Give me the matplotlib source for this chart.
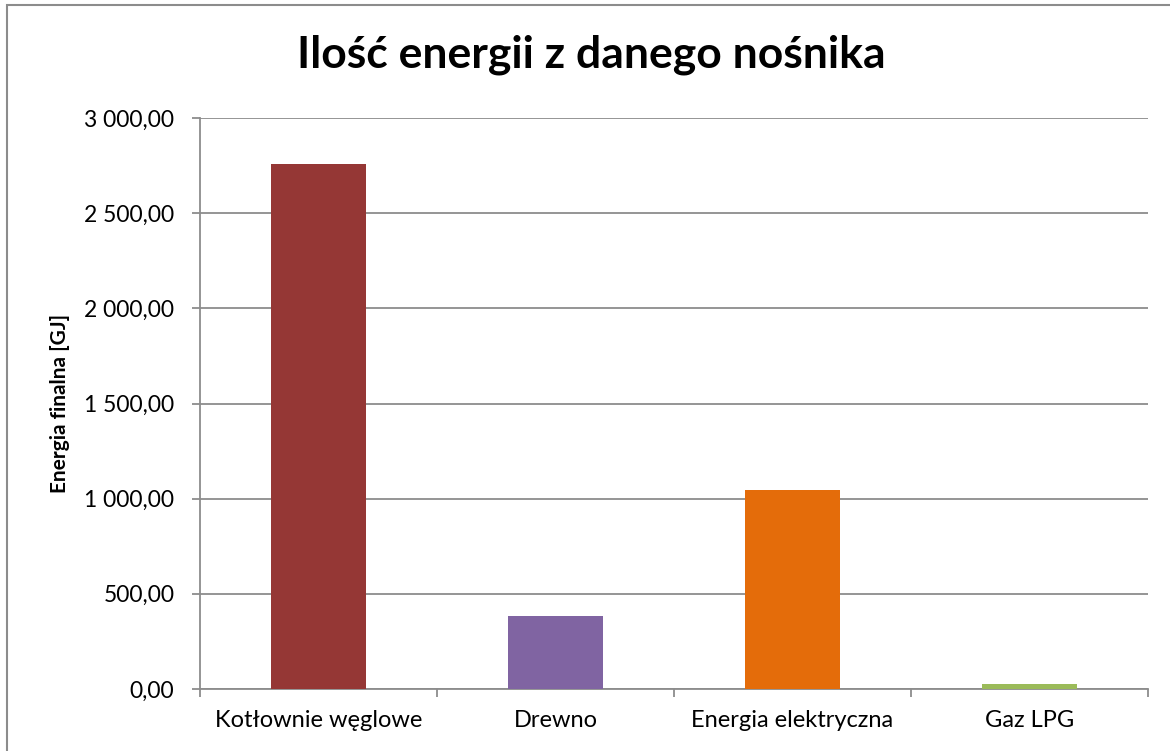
import matplotlib
matplotlib.use("Agg")
import matplotlib.pyplot as plt
from matplotlib.patches import Rectangle
from matplotlib.ticker import FuncFormatter, FixedLocator

categories = ["Kotłownie węglowe", "Drewno", "Energia elektryczna", "Gaz LPG"]
values = [2756.0, 384.0, 1045.0, 26.0]
colors = ["#953735", "#8064A2", "#E46C0A", "#9BBB59"]
yticks = [0, 500, 1000, 1500, 2000, 2500, 3000]
title = "Ilość energii z danego nośnika"
ylabel = "Energia finalna [GJ]"

plt.rcParams['font.family'] = ['Lato', 'DejaVu Sans']

fig = plt.figure(figsize=(11.7, 7.51), dpi=100)
W, H = 1170, 751
ax = fig.add_axes([200 / W, 1 - 689 / H, (1148 - 200) / W, (689 - 118) / H])

x = list(range(len(categories)))
ax.bar(x, values, width=0.4, color=colors, zorder=3)

ax.set_xlim(-0.5, len(categories) - 0.5)
ax.set_ylim(0, 3000)
ax.set_yticks(yticks)
ax.yaxis.set_major_formatter(FuncFormatter(
    lambda v, p: f"{v:,.2f}".replace(",", " ").replace(".", ",")))
ax.grid(axis='y', color='#8c8c8c', linewidth=1.3, zorder=0)

ax.set_xticks(x)
ax.set_xticklabels(categories)
ax.xaxis.set_minor_locator(FixedLocator([i - 0.5 for i in range(len(categories) + 1)]))
ax.tick_params(axis='x', which='major', length=0, pad=15, labelsize=17)
ax.tick_params(axis='x', which='minor', length=5.5, width=1.3, color='#8c8c8c')
ax.tick_params(axis='y', which='major', length=5.5, width=1.3, color='#8c8c8c',
               labelsize=16.5, pad=13)

for s in ['top', 'right']:
    ax.spines[s].set_visible(False)
for s in ['left', 'bottom']:
    ax.spines[s].set_color('#8c8c8c')
    ax.spines[s].set_linewidth(1.3)

fig.text(60 / W, 1 - 403 / H, ylabel, rotation=90, ha='center', va='center',
         fontsize=15, fontweight='bold')
fig.text(591 / W, 1 - 55 / H, title, ha='center', va='center',
         fontsize=32, fontweight='bold')

fig.patches.append(Rectangle((7 / W, -0.05), 1.2, 1 - 5 / H + 0.05,
                             transform=fig.transFigure, fill=False,
                             edgecolor='#8c8c8c', linewidth=1.5))

fig.savefig("out.png", dpi=100)
